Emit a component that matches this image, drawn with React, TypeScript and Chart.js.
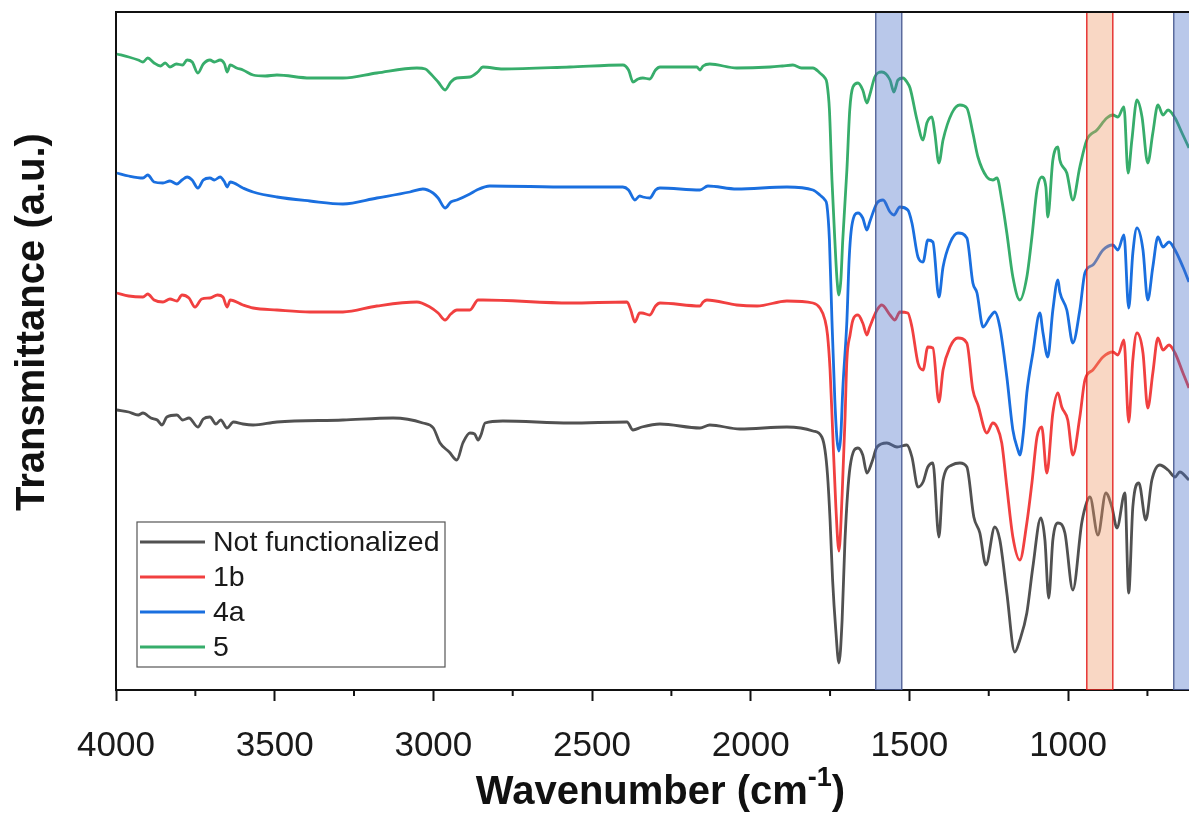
import React, { useEffect, useRef } from 'react';
import { Chart, registerables } from 'chart.js';

Chart.register(...registerables);

// ---------- data (wavenumber in cm-1, transmittance in a.u.) ----------
const seriesLabels = ['Not functionalized', '1b', '4a', '5'];

const wnBlack = [3997,3960,3930,3915,3890,3870,3855,3840,3808,3790,3770,3742,3725,3704,3685,3670,3650,3630,3600,3568,3493,3285,3127,3033,3000,2979,2950,2926,2907,2885,2870,2859,2850,2837,2781,2570,2390,2371,2343,2286,2160,2129,2034,1886,1804,1776,1766,1758,1750,1742,1732,1722,1712,1703,1687,1662,1647,1634,1618,1602,1571,1539,1508,1492,1473,1457,1442,1426,1407,1394,1366,1341,1319,1297,1278,1259,1231,1215,1193,1168,1152,1130,1111,1086,1073,1061,1048,1032,1010,985,957,941,931,906,881,862,846,821,809,796,777,755,736,711,685,663,648,619];
const tBlack = [280,278,275,277,272,270,265,273,275,270,272,263,271,273,266,270,262,268,266,265,268,270,272,267,262,247,238,230,247,257,256,250,255,267,269,267,268,260,263,266,262,265,261,263,259,253,240,215,170,110,60,27,70,150,223,242,235,217,228,243,247,243,245,233,203,208,223,227,153,210,225,227,223,173,157,125,163,150,97,38,50,77,123,172,150,92,150,167,157,100,167,188,193,155,197,183,162,197,97,183,207,170,210,225,220,213,218,210];

const wnRed = [3997,3960,3915,3900,3880,3852,3830,3808,3792,3770,3751,3730,3704,3680,3663,3650,3640,3600,3568,3493,3389,3285,3178,3052,3011,2985,2963,2945,2926,2885,2859,2844,2570,2390,2378,2365,2350,2343,2318,2300,2286,2160,2150,2138,2044,1980,1886,1804,1782,1766,1758,1750,1742,1732,1722,1712,1703,1697,1687,1678,1662,1647,1634,1625,1602,1587,1561,1546,1530,1505,1492,1473,1457,1442,1426,1407,1394,1372,1347,1319,1300,1284,1256,1237,1224,1209,1193,1174,1152,1130,1114,1098,1083,1067,1048,1032,1020,1001,985,963,947,922,890,859,843,824,809,796,783,764,749,733,717,701,682,663,638,619];
const tRed = [397,394,393,396,390,388,391,389,395,392,383,391,392,395,393,383,390,385,382,380,378,378,384,388,383,377,370,376,380,380,390,390,387,388,380,368,377,377,375,384,387,384,388,390,385,384,389,387,382,370,355,320,260,185,139,195,270,330,355,370,375,367,355,363,380,385,375,370,378,377,363,327,320,343,342,288,320,343,352,347,300,285,257,267,263,247,203,153,130,167,207,253,263,217,277,297,283,270,235,273,310,320,333,338,335,350,268,330,357,337,282,317,352,340,345,337,317,302];

const wnBlue = [3997,3960,3915,3900,3880,3852,3830,3808,3792,3776,3760,3742,3725,3704,3690,3672,3658,3650,3640,3600,3568,3493,3389,3285,3178,3074,3033,3001,2985,2963,2945,2926,2885,2863,2822,2570,2403,2385,2365,2350,2340,2318,2300,2286,2160,2135,2044,1886,1804,1782,1766,1760,1752,1744,1735,1728,1722,1716,1710,1697,1690,1681,1662,1647,1634,1625,1602,1583,1561,1549,1530,1505,1492,1473,1457,1442,1426,1407,1394,1372,1347,1319,1300,1287,1268,1246,1231,1215,1193,1174,1158,1152,1140,1130,1111,1089,1079,1064,1048,1032,1026,1004,985,963,947,922,890,859,843,824,809,796,783,764,749,733,717,701,682,663,638,619];
const tBlue = [517,514,512,515,508,507,509,506,510,513,510,502,510,512,510,513,508,503,508,502,498,493,489,486,492,498,501,497,492,482,488,490,496,500,504,503,503,500,490,494,493,492,500,502,500,504,501,503,500,495,490,485,450,369,290,250,239,255,300,369,430,465,477,472,460,468,487,490,478,475,483,480,467,433,428,450,448,393,423,447,457,452,407,397,363,373,378,363,313,260,240,235,260,297,337,377,357,333,380,410,398,380,347,380,417,425,440,445,440,455,382,437,462,440,390,423,453,443,448,440,423,408];

const wnGreen = [3997,3960,3930,3915,3900,3880,3860,3845,3830,3810,3790,3776,3760,3742,3725,3704,3690,3672,3658,3650,3640,3620,3600,3568,3530,3493,3389,3285,3178,3052,3025,3011,2985,2963,2945,2926,2885,2860,2844,2781,2570,2403,2385,2371,2355,2340,2318,2300,2286,2170,2160,2150,2129,2044,1939,1900,1867,1840,1804,1782,1766,1760,1752,1744,1735,1728,1722,1716,1710,1697,1688,1678,1662,1647,1634,1625,1609,1587,1561,1549,1536,1520,1508,1498,1476,1457,1445,1429,1420,1407,1394,1366,1341,1319,1300,1284,1256,1237,1224,1209,1193,1174,1152,1130,1114,1098,1083,1070,1064,1048,1032,1026,1004,985,963,941,909,878,859,843,824,811,799,783,767,749,733,717,701,685,663,641,619];
const tGreen = [636,633,630,628,632,627,624,627,623,626,625,630,628,617,626,630,628,630,626,618,625,622,620,615,614,615,612,612,617,622,621,617,608,600,608,612,613,618,623,621,623,625,620,608,611,612,611,620,623,623,620,624,626,622,623,624,625,622,622,617,612,607,580,510,450,410,395,410,450,520,580,603,607,600,587,595,613,618,610,598,610,612,608,602,570,550,567,573,557,527,550,577,585,582,557,533,513,510,512,490,457,413,390,413,453,500,513,503,473,530,543,530,517,490,523,550,560,572,575,573,583,517,550,590,573,527,557,585,575,580,572,557,542];

const xRange = [619, 4000];
const yRange = [0, 678];
const xMajorTicks = [4000, 3500, 3000, 2500, 2000, 1500, 1000];
const xMinorTicks = [3750, 3250, 2750, 2250, 1750, 1250, 750];

// highlighted wavenumber bands [from, to]
const bandFrom = [1606, 941, 667];
const bandTo = [1524, 859, 560];

// ---------- styles ----------
const seriesColors = ['#515151', '#F14040', '#1A6FDF', '#37AD6B'];
const bandFill = ['rgba(70,110,200,0.38)', 'rgba(240,150,100,0.38)', 'rgba(70,110,200,0.38)'];
const bandEdge = ['#4a5a90', '#e31a1a', '#4a5a90'];
const FONT = '"Liberation Sans", Arial, Helvetica, sans-serif';

const overlayPlugin = {
  id: 'overlay',
  afterDatasetsDraw(chart: any) {
    const { ctx, chartArea: a, scales } = chart;
    const xs = scales.x;
    ctx.save();
    ctx.beginPath();
    ctx.rect(a.left, a.top - 2, a.right - a.left + 5, a.bottom - a.top + 2);
    ctx.clip();
    bandFrom.forEach((f, i) => {
      const x1 = xs.getPixelForValue(f);
      const x2 = xs.getPixelForValue(bandTo[i]);
      ctx.fillStyle = bandFill[i];
      ctx.fillRect(x1, a.top, x2 - x1, a.bottom - a.top);
      ctx.strokeStyle = bandEdge[i];
      ctx.lineWidth = 1.3;
      ctx.strokeRect(x1, a.top, x2 - x1, a.bottom - a.top);
    });
    ctx.restore();
  },
  afterDraw(chart: any) {
    const { ctx, chartArea: a, scales, data } = chart;
    const xs = scales.x;
    ctx.save();
    // top border
    ctx.strokeStyle = '#111';
    ctx.lineWidth = 2;
    ctx.beginPath();
    ctx.moveTo(a.left - 1, a.top);
    ctx.lineTo(a.right, a.top);
    ctx.stroke();
    // minor ticks
    ctx.lineWidth = 2;
    xMinorTicks.forEach((v) => {
      const px = xs.getPixelForValue(v);
      ctx.beginPath();
      ctx.moveTo(px, a.bottom);
      ctx.lineTo(px, a.bottom + 6);
      ctx.stroke();
    });
    // legend
    const lx = a.left + 21, ly = a.bottom - 168, lw = 308, lh = 145;
    ctx.fillStyle = '#fff';
    ctx.fillRect(lx, ly, lw, lh);
    ctx.strokeStyle = '#555';
    ctx.lineWidth = 1.2;
    ctx.strokeRect(lx, ly, lw, lh);
    ctx.font = `28.5px ${FONT}`;
    ctx.textBaseline = 'middle';
    data.datasets.forEach((ds: any, i: number) => {
      const ry = ly + 20 + i * 35;
      ctx.strokeStyle = ds.borderColor;
      ctx.lineWidth = 2.8;
      ctx.beginPath();
      ctx.moveTo(lx + 3, ry);
      ctx.lineTo(lx + 68, ry);
      ctx.stroke();
      ctx.fillStyle = '#1a1a1a';
      ctx.fillText(ds.label, lx + 76, ry + 1);
    });
    // x title with superscript
    ctx.fillStyle = '#111';
    const main = 'Wavenumber (cm';
    const big = `bold 40px ${FONT}`;
    const small = `bold 27px ${FONT}`;
    ctx.font = big;
    const wMain = ctx.measureText(main).width;
    ctx.font = small;
    const wSup = ctx.measureText('-1').width;
    ctx.font = big;
    const wClose = ctx.measureText(')').width;
    const total = wMain + wSup + wClose;
    const cx = (a.left + a.right) / 2 + 8;
    let tx = cx - total / 2;
    const baseY = 804;
    ctx.textBaseline = 'alphabetic';
    ctx.textAlign = 'left';
    ctx.fillText(main, tx, baseY);
    tx += wMain;
    ctx.font = small;
    ctx.fillText('-1', tx, baseY - 18);
    tx += wSup;
    ctx.font = big;
    ctx.fillText(')', tx, baseY);
    // y title
    ctx.translate(33, 322);
    ctx.rotate(-Math.PI / 2);
    ctx.textAlign = 'center';
    ctx.textBaseline = 'middle';
    ctx.font = big;
    ctx.fillText('Transmittance (a.u.)', 0, 0);
    ctx.restore();
  },
};

export default function App() {
  const ref = useRef<HTMLCanvasElement | null>(null);
  useEffect(() => {
    document.body.style.margin = '0';
    document.body.style.overflow = 'hidden';
    const canvas = ref.current;
    if (!canvas) return;
    const mk = (wn: number[], t: number[]) => wn.map((w, i) => ({ x: w, y: t[i] }));
    const series = [mk(wnBlack, tBlack), mk(wnRed, tRed), mk(wnBlue, tBlue), mk(wnGreen, tGreen)];
    const chart = new Chart(canvas, {
      type: 'line',
      data: {
        datasets: series.map((d, i) => ({
          label: seriesLabels[i],
          data: d,
          borderColor: seriesColors[i],
          backgroundColor: seriesColors[i],
          borderWidth: 2.8,
          pointRadius: 0,
          fill: false,
          cubicInterpolationMode: 'monotone' as const,
        })),
      },
      options: {
        animation: false,
        responsive: false,
        maintainAspectRatio: false,
        layout: { padding: { top: 12, right: 0, left: 0, bottom: 0 } },
        plugins: { legend: { display: false }, tooltip: { enabled: false } },
        scales: {
          x: {
            type: 'linear',
            reverse: true,
            min: xRange[0],
            max: xRange[1],
            afterBuildTicks: (s: any) => {
              s.ticks = xMajorTicks.map((v) => ({ value: v }));
            },
            ticks: {
              autoSkip: false,
              maxRotation: 0,
              padding: 24,
              color: '#1a1a1a',
              font: { family: FONT, size: 35 },
              callback: (v: any) => String(v),
            },
            grid: {
              display: true,
              drawOnChartArea: false,
              drawTicks: true,
              tickLength: 11,
              tickColor: '#111',
              tickWidth: 2,
            },
            border: { display: true, color: '#111', width: 2 },
            afterFit: (s: any) => {
              s.height = 124;
            },
          },
          y: {
            type: 'linear',
            min: yRange[0],
            max: yRange[1],
            ticks: { display: false },
            grid: { display: false, drawTicks: false },
            border: { display: true, color: '#111', width: 2 },
            afterFit: (s: any) => {
              s.width = 116;
            },
          },
        },
      },
      plugins: [overlayPlugin],
    });
    return () => chart.destroy();
  }, []);
  return (
    <div style={{ width: 1189, height: 814, background: '#fff' }}>
      <canvas ref={ref} width={1189} height={814} style={{ display: 'block' }} />
    </div>
  );
}
